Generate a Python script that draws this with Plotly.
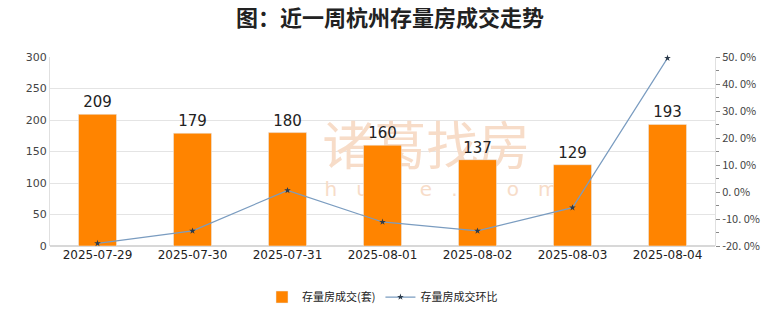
import plotly.graph_objects as go

dates = ["2025-07-29", "2025-07-30", "2025-07-31", "2025-08-01", "2025-08-02", "2025-08-03", "2025-08-04"]
volume = [209, 179, 180, 160, 137, 129, 193]
mom_pct = [-19.0, -14.4, 0.6, -11.1, -14.4, -5.8, 49.6]

right_tickvals = [-20, -10, 0, 10, 20, 30, 40, 50]
right_ticktext = ["-20. 0%", "-10. 0%", "0. 0%", "10. 0%", "20. 0%", "30. 0%", "40. 0%", "50. 0%"]

watermark_main = "诸葛找房"
watermark_sub = "z   h   u   g   e   .   c   o   m"

font_cjk = "Noto Sans CJK SC, Noto Sans, sans-serif"
xs = list(range(len(dates)))

fig = go.Figure()
# watermark on the primary (bottom) subplot, drawn behind bars
fig.add_trace(go.Scatter(
    x=[3.46, 3.46], y=[150, 88], mode="text", text=[watermark_main, watermark_sub],
    textfont=dict(size=[52, 20], color="#f7dcc8", family=[font_cjk, "DejaVu Sans"]),
    showlegend=False, hoverinfo="skip", yaxis="y",
))
fig.add_trace(go.Bar(
    x=xs, y=volume, name="存量房成交(套)", yaxis="y2",
    marker=dict(color="#ff8400"), width=0.4,
    text=volume, textposition="outside",
    textfont=dict(size=15, color="#222", family="DejaVu Sans"),
    cliponaxis=False,
))
fig.add_trace(go.Scatter(
    x=xs, y=mom_pct, name="存量房成交环比", yaxis="y3",
    mode="lines+markers",
    line=dict(color="#7a9cc0", width=1.2),
    marker=dict(symbol="star", size=5, color="#2b3a4a"),
    cliponaxis=False,
))

fig.update_layout(
    width=780, height=328,
    margin=dict(l=50, r=65, t=57, b=82),
    paper_bgcolor="white", plot_bgcolor="white",
    title=dict(text="<b>图：近一周杭州存量房成交走势</b>", x=0.5, xanchor="center", y=0.945, yanchor="middle",
               font=dict(size=22, color="#222", family=font_cjk)),
    showlegend=True,
    legend=dict(orientation="h", x=0.5, xanchor="center", y=-0.27, yanchor="middle",
                font=dict(size=11, color="#222", family=font_cjk), itemwidth=30),
    xaxis=dict(range=[-0.5, len(dates) - 0.5], tickvals=xs, ticktext=dates,
               tickfont=dict(size=12, color="#222", family="DejaVu Sans"),
               showline=False, showgrid=False, ticks="", zeroline=False),
    yaxis=dict(range=[0, 300], dtick=50, showgrid=True, gridcolor="#e4e4e4",
               tickfont=dict(size=11, color="#444", family="DejaVu Sans"),
               showline=True, linecolor="#e0e0e0", zeroline=True, zerolinecolor="#d8d8d8"),
    yaxis2=dict(overlaying="y", range=[0, 300], visible=False, showgrid=False, zeroline=False),
    yaxis3=dict(overlaying="y", side="right", range=[-20, 50],
                tickvals=right_tickvals, ticktext=right_ticktext,
                tickfont=dict(size=11, color="#444", family="Noto Sans CJK JP, DejaVu Sans"),
                showgrid=False, showline=True, linecolor="#e0e0e0",
                ticks="outside", ticklen=4, tickcolor="#888",
                minor=dict(dtick=5, ticks="outside", ticklen=3, tickcolor="#888"),
                zeroline=False),
)

fig.write_html("out.html")
